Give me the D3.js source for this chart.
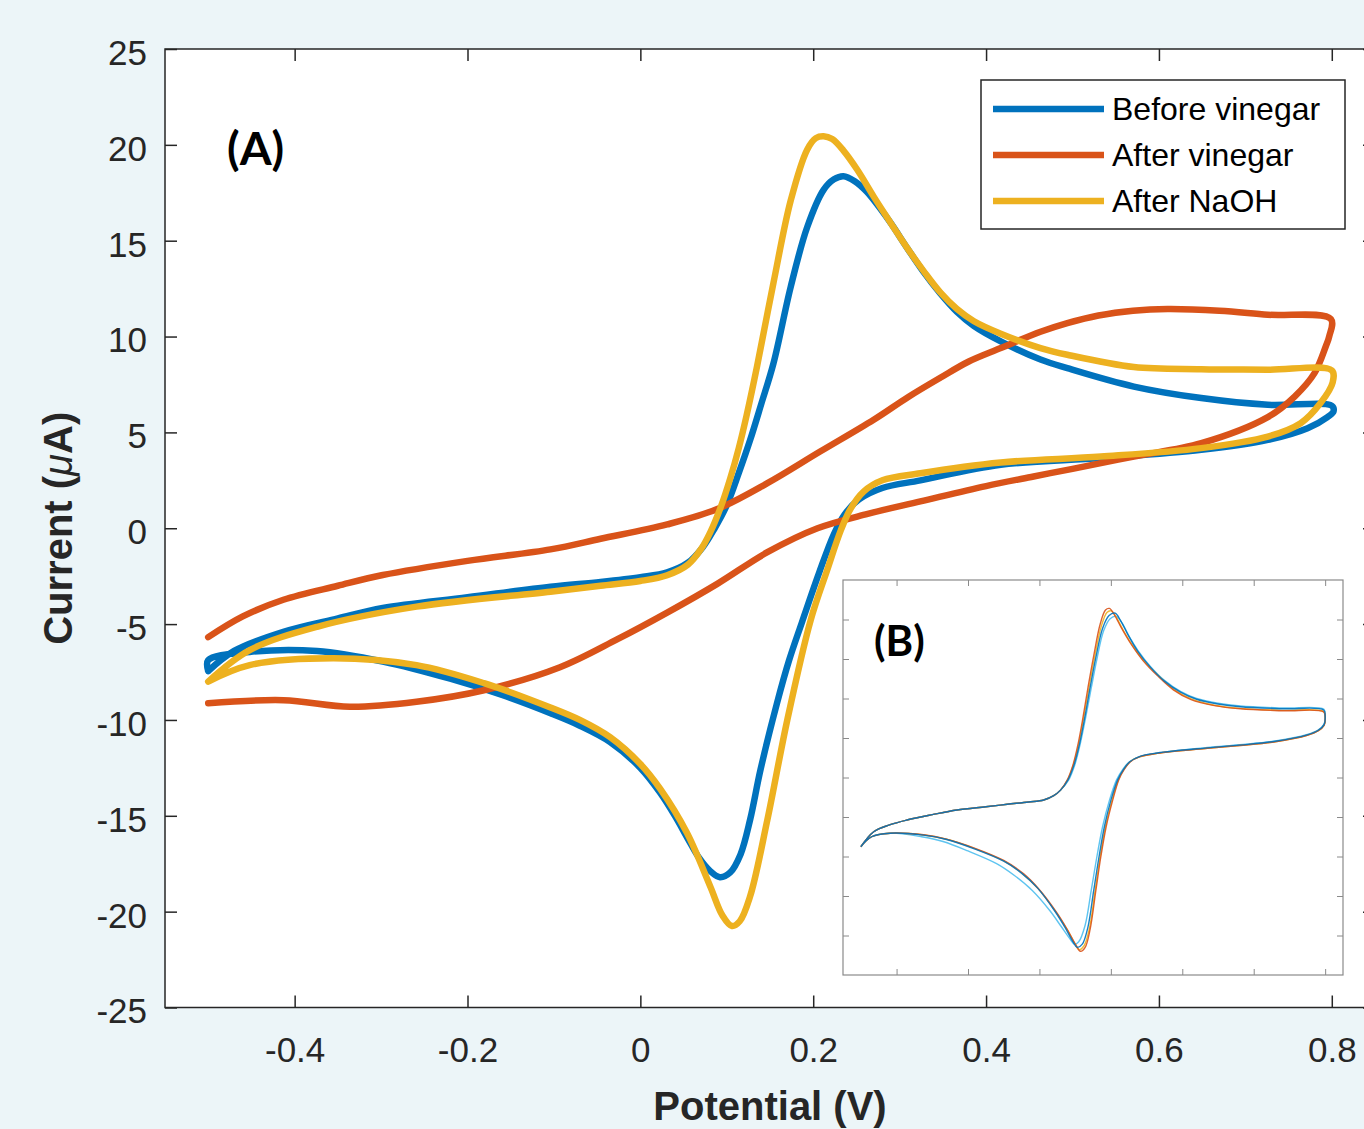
<!DOCTYPE html>
<html>
<head>
<meta charset="utf-8">
<title>cv curves</title>
<script src="https://d3js.org/d3.v7.min.js"></script>
<style>
  body { margin: 0; background: #ecf5f8; }
  svg { display: block; }
</style>
</head>
<body>
<svg id="chart" width="1364" height="1129"></svg>
<script>
// axis limits and ticks
const xDomain = [-0.55, 0.85];
const yDomain = [-25, 25];
const xTicks = [-0.4, -0.2, 0, 0.2, 0.4, 0.6, 0.8];
const xTickLabels = ["-0.4", "-0.2", "0", "0.2", "0.4", "0.6", "0.8"];
const yTicks = [-25, -20, -15, -10, -5, 0, 5, 10, 15, 20, 25];
const yTickLabels = ["-25", "-20", "-15", "-10", "-5", "0", "5", "10", "15", "20", "25"];
const insetXTicks = [-0.4, -0.2, 0, 0.2, 0.4, 0.6, 0.8];
const insetYTicks = [-20, -15, -10, -5, 0, 5, 10, 15, 20];

const seriesNames = ["Before vinegar", "After vinegar", "After NaOH"];
const seriesColors = ["#0072BD", "#D95319", "#EDB120"];

// [potential V, current uA], in scan order
const beforeVinegar = [
  [-0.5,-7.45],[-0.47,-6.4],[-0.413,-5.4],[-0.35,-4.7],[-0.298,-4.16],[-0.2,-3.6],[-0.104,-3.05],
  [-0.046,-2.8],[0.0,-2.55],[0.031,-2.3],[0.055,-1.8],[0.072,-1.0],[0.086,0.0],[0.1,1.2],[0.114,2.9],
  [0.127,4.6],[0.14,6.5],[0.154,8.6],[0.174,12.6],[0.193,15.7],[0.212,17.65],[0.224,18.2],[0.235,18.36],
  [0.248,18.1],[0.262,17.55],[0.278,16.65],[0.29,15.9],[0.309,14.6],[0.328,13.35],[0.347,12.25],
  [0.366,11.3],[0.386,10.55],[0.417,9.75],[0.463,8.8],[0.494,8.35],[0.571,7.39],[0.649,6.79],
  [0.726,6.44],[0.8,6.39],
  [0.802,6.1],[0.795,5.8],[0.772,5.22],[0.726,4.61],[0.649,4.09],[0.533,3.66],[0.417,3.31],[0.324,2.5],
  [0.28,2.1],[0.253,1.5],[0.236,0.7],[0.224,-0.3],[0.207,-2.3],[0.187,-4.9],[0.172,-6.9],[0.158,-9.14],
  [0.139,-12.6],[0.127,-15.2],[0.116,-17.0],[0.104,-17.95],[0.092,-18.2],[0.08,-17.85],[0.068,-17.2],
  [0.055,-16.2],[0.04,-15.0],[0.023,-13.8],[0.0,-12.5],[-0.035,-11.15],[-0.07,-10.3],[-0.104,-9.65],
  [-0.16,-8.7],[-0.22,-7.85],[-0.298,-6.95],[-0.374,-6.4],[-0.452,-6.45],[-0.5,-6.88],[-0.5,-7.45]
];
const afterVinegar = [
  [-0.5,-5.68],[-0.46,-4.6],[-0.413,-3.73],[-0.35,-3.0],[-0.298,-2.44],[-0.2,-1.7],[-0.104,-1.1],
  [-0.046,-0.55],[0.031,0.2],[0.089,1.0],[0.147,2.35],[0.208,4.0],[0.27,5.66],[0.31,6.85],[0.347,7.85],
  [0.38,8.7],[0.417,9.4],[0.463,10.25],[0.494,10.7],[0.53,11.1],[0.57,11.35],[0.61,11.44],[0.67,11.35],
  [0.726,11.14],[0.799,10.91],
  [0.797,10.0],[0.793,9.48],[0.78,8.09],[0.757,6.87],[0.726,5.8],[0.649,4.44],[0.571,3.74],[0.5,3.1],
  [0.455,2.7],[0.4,2.2],[0.324,1.4],[0.263,0.75],[0.205,0.0],[0.147,-1.25],[0.089,-2.9],[0.031,-4.4],
  [-0.027,-5.8],[-0.093,-7.25],[-0.181,-8.45],[-0.259,-9.05],[-0.336,-9.31],[-0.413,-8.97],[-0.5,-9.13]
];
const afterNaOH = [
  [-0.5,-8.0],[-0.452,-6.36],[-0.374,-5.14],[-0.259,-4.09],[-0.104,-3.31],[-0.046,-3.0],[0.0,-2.75],
  [0.031,-2.45],[0.055,-1.9],[0.07,-1.1],[0.081,-0.2],[0.093,1.1],[0.104,2.6],[0.114,4.2],[0.123,5.9],
  [0.135,8.44],[0.154,12.8],[0.174,17.1],[0.193,19.75],[0.203,20.35],[0.212,20.45],[0.222,20.3],
  [0.235,19.7],[0.251,18.7],[0.27,17.3],[0.29,15.9],[0.309,14.6],[0.328,13.4],[0.347,12.3],[0.366,11.45],
  [0.386,10.8],[0.417,10.15],[0.463,9.4],[0.494,9.05],[0.571,8.41],[0.649,8.3],[0.726,8.27],[0.8,8.23],
  [0.801,7.6],[0.787,6.53],[0.764,5.48],[0.726,4.78],[0.649,4.18],[0.533,3.74],[0.417,3.43],[0.324,2.87],
  [0.28,2.5],[0.258,1.9],[0.243,1.0],[0.232,-0.1],[0.216,-2.2],[0.197,-4.8],[0.17,-10.0],[0.147,-15.2],
  [0.127,-19.2],[0.115,-20.5],[0.106,-20.75],[0.095,-20.2],[0.081,-18.7],[0.054,-15.9],[0.023,-13.6],
  [0.0,-12.3],[-0.035,-10.9],[-0.07,-10.0],[-0.104,-9.35],[-0.181,-8.08],[-0.259,-7.14],[-0.355,-6.78],
  [-0.452,-7.14],[-0.5,-8.0]
];
const seriesData = [beforeVinegar, afterVinegar, afterNaOH];

// inset (B): repeated cycles
const insetStart = [
  [-0.5,-8.76],[-0.464,-6.86],[-0.42,-6.0],[-0.371,-5.38],[-0.3,-4.7],[-0.231,-4.11],[-0.15,-3.7],
  [-0.09,-3.39],[-0.03,-3.1],[0.012,-2.85],[0.04,-2.3],[0.059,-1.6]
];
const insetTail = [[-0.418,-7.05],[-0.47,-7.5],[-0.5,-8.76]];
const insetCycleOrange = [
  [0.078,-0.3],[0.094,1.6],[0.108,4.2],[0.122,7.6],[0.136,11.4],[0.152,15.4],[0.17,19.4],[0.185,21.2],
  [0.196,21.4],[0.21,20.6],[0.23,18.9],[0.255,17.0],[0.29,14.8],[0.33,12.9],[0.375,11.1],[0.423,9.9],
  [0.49,9.1],[0.563,8.7],[0.68,8.45],[0.796,8.3],
  [0.8,7.6],[0.797,6.6],[0.78,5.9],[0.75,5.35],[0.656,4.5],[0.56,4.05],[0.47,3.7],[0.33,3.06],[0.28,2.6],
  [0.255,2.0],[0.237,1.0],[0.222,-0.3],[0.205,-2.9],[0.187,-6.2],[0.172,-10.0],[0.158,-14.3],[0.142,-19.2],
  [0.128,-21.5],[0.115,-22.0],[0.102,-21.2],[0.08,-19.4],[0.05,-17.2],[0.0,-14.2],[-0.044,-12.2],
  [-0.1,-10.5],[-0.184,-8.9],[-0.26,-7.8],[-0.324,-7.25]
];
const insetCycleYellow = [
  [0.079,-0.3],[0.095,1.6],[0.11,4.2],[0.124,7.6],[0.139,11.4],[0.155,15.3],[0.173,19.1],[0.189,20.9],
  [0.201,21.1],[0.215,20.3],[0.234,18.7],[0.258,16.9],[0.292,14.8],[0.333,12.9],[0.378,11.1],[0.425,9.95],
  [0.49,9.15],[0.563,8.75],[0.68,8.5],[0.796,8.35],
  [0.8,7.65],[0.797,6.6],[0.78,5.9],[0.75,5.35],[0.656,4.5],[0.56,4.05],[0.47,3.7],[0.33,3.06],[0.28,2.6],
  [0.254,2.0],[0.236,1.0],[0.221,-0.3],[0.203,-2.9],[0.185,-6.2],[0.17,-10.0],[0.156,-14.3],[0.14,-19.1],
  [0.125,-21.3],[0.111,-21.8],[0.099,-21.0],[0.077,-19.2],[0.047,-17.1],[-0.003,-14.1],[-0.047,-12.2],
  [-0.1,-10.55],[-0.184,-8.95],[-0.26,-7.82],[-0.324,-7.27]
];
const insetCycleBlue = [
  [0.08,-0.3],[0.097,1.6],[0.112,4.2],[0.127,7.6],[0.142,11.4],[0.158,15.2],[0.177,18.9],[0.195,20.5],
  [0.212,20.8],[0.228,19.8],[0.25,17.9],[0.275,16.0],[0.31,14.0],[0.35,12.2],[0.395,10.8],[0.44,9.9],
  [0.5,9.3],[0.563,8.95],[0.68,8.7],[0.796,8.55],
  [0.8,7.8],[0.797,6.7],[0.78,5.95],[0.75,5.4],[0.656,4.55],[0.56,4.1],[0.47,3.75],[0.33,3.1],[0.28,2.65],
  [0.253,2.0],[0.235,1.0],[0.219,-0.3],[0.2,-2.9],[0.182,-6.2],[0.167,-10.0],[0.152,-14.3],[0.136,-18.9],
  [0.12,-21.1],[0.106,-21.5],[0.094,-20.8],[0.072,-19.0],[0.043,-16.9],[-0.005,-14.0],[-0.05,-12.1],
  [-0.1,-10.6],[-0.184,-9.0],[-0.26,-7.85],[-0.324,-7.3]
];
const insetCycleLightBlue = [
  [0.082,-0.3],[0.099,1.6],[0.114,4.2],[0.129,7.5],[0.145,11.3],[0.161,15.0],[0.18,18.6],[0.198,20.1],
  [0.215,20.4],[0.232,19.5],[0.252,17.8],[0.277,16.0],[0.31,14.1],[0.35,12.3],[0.395,10.9],[0.44,10.0],
  [0.5,9.4],[0.563,9.05],[0.68,8.8],[0.796,8.65],
  [0.8,7.9],[0.797,6.75],[0.78,6.0],[0.75,5.45],[0.656,4.6],[0.56,4.15],[0.47,3.8],[0.33,3.1],[0.28,2.65],
  [0.252,2.0],[0.233,1.0],[0.216,-0.3],[0.196,-2.9],[0.177,-6.2],[0.161,-10.0],[0.145,-14.3],[0.128,-18.7],
  [0.11,-20.8],[0.098,-21.1],[0.085,-20.4],[0.06,-18.8],[0.03,-16.9],[-0.02,-14.3],[-0.07,-12.4],
  [-0.12,-10.9],[-0.2,-9.3],[-0.27,-8.1],[-0.33,-7.5]
];
const insetCycles = [insetCycleLightBlue, insetCycleYellow, insetCycleOrange, insetCycleBlue];
const insetColors = ["#4DBEEE", "#EDB120", "#D95319", "#0072BD"];

const svg = d3.select("#chart");
const axisColor = "#262626";
const tickFont = "'Liberation Sans', Arial, Helvetica, sans-serif";

const x = d3.scaleLinear().domain(xDomain).range([165, 1375]);
const y = d3.scaleLinear().domain(yDomain).range([1007.5, 49]);

// plot area
svg.append("rect")
  .attr("x", x(xDomain[0])).attr("y", y(yDomain[1]))
  .attr("width", x(xDomain[1]) - x(xDomain[0]))
  .attr("height", y(yDomain[0]) - y(yDomain[1]))
  .attr("fill", "#fff");

const line = d3.line()
  .x(d => x(d[0]))
  .y(d => y(d[1]))
  .curve(d3.curveCatmullRom.alpha(0.5));

svg.append("g").selectAll("path")
  .data(seriesData)
  .join("path")
  .attr("d", line)
  .attr("fill", "none")
  .attr("stroke", (d, i) => seriesColors[i])
  .attr("stroke-width", 6.5)
  .attr("stroke-linejoin", "round")
  .attr("stroke-linecap", "round");

// axes, ticks pointing inward on all four sides
function styleAxis(g) {
  g.select(".domain").remove();
  g.selectAll(".tick line").attr("stroke", axisColor).attr("stroke-width", 1.5);
  g.selectAll(".tick text")
    .attr("fill", axisColor)
    .style("font-family", tickFont)
    .style("font-size", "35px");
}

svg.append("g")
  .attr("transform", `translate(0,${y(yDomain[0])})`)
  .call(d3.axisBottom(x).tickValues(xTicks).tickFormat((d, i) => xTickLabels[i])
    .tickSizeInner(-12).tickSizeOuter(0).tickPadding(30))
  .call(styleAxis);

svg.append("g")
  .attr("transform", `translate(0,${y(yDomain[1])})`)
  .call(d3.axisTop(x).tickValues(xTicks).tickFormat("").tickSizeInner(-12).tickSizeOuter(0))
  .call(styleAxis);

const gy = svg.append("g")
  .attr("transform", `translate(${x(xDomain[0])},0)`)
  .call(d3.axisLeft(y).tickValues(yTicks).tickFormat((d, i) => yTickLabels[i])
    .tickSizeInner(-12).tickSizeOuter(0).tickPadding(18))
  .call(styleAxis);
gy.selectAll(".tick text").attr("dy", "0.44em");

svg.append("g")
  .attr("transform", `translate(${x(xDomain[1])},0)`)
  .call(d3.axisRight(y).tickValues(yTicks).tickFormat("").tickSizeInner(-12).tickSizeOuter(0))
  .call(styleAxis);

svg.append("rect")
  .attr("x", x(xDomain[0])).attr("y", y(yDomain[1]))
  .attr("width", x(xDomain[1]) - x(xDomain[0]))
  .attr("height", y(yDomain[0]) - y(yDomain[1]))
  .attr("fill", "none")
  .attr("stroke", axisColor)
  .attr("stroke-width", 1.5);

// axis titles
svg.append("text")
  .attr("x", (x(xDomain[0]) + x(xDomain[1])) / 2)
  .attr("y", 1120)
  .attr("text-anchor", "middle")
  .attr("fill", axisColor)
  .style("font-family", tickFont)
  .style("font-size", "40px")
  .style("font-weight", "bold")
  .text("Potential (V)");

const yTitle = svg.append("text")
  .attr("transform", `translate(72,${(y(yDomain[0]) + y(yDomain[1])) / 2}) rotate(-90)`)
  .attr("text-anchor", "middle")
  .attr("fill", axisColor)
  .style("font-family", tickFont)
  .style("font-size", "40px")
  .style("font-weight", "bold");
yTitle.append("tspan").text("Current (");
yTitle.append("tspan").style("font-style", "italic").style("font-weight", "normal").text("\u03bc");
yTitle.append("tspan").text("A)");

// panel label
svg.append("text")
  .attr("x", 227).attr("y", 165)
  .style("font-family", "Lato, 'Open Sans', sans-serif")
  .style("font-size", "46px")
  .style("font-weight", "bold")
  .attr("fill", "#000")
  .text("(A)");

// legend
const legend = svg.append("g");
legend.append("rect")
  .attr("x", 981).attr("y", 80).attr("width", 364).attr("height", 149)
  .attr("fill", "#fff").attr("stroke", axisColor).attr("stroke-width", 1.5);
const entry = legend.selectAll("g.entry")
  .data(seriesNames)
  .join("g")
  .attr("class", "entry")
  .attr("transform", (d, i) => `translate(0,${109 + i * 46})`);
entry.append("line")
  .attr("x1", 993).attr("x2", 1104)
  .attr("stroke", (d, i) => seriesColors[i])
  .attr("stroke-width", 6.5);
entry.append("text")
  .attr("x", 1112).attr("y", 11)
  .style("font-family", tickFont)
  .style("font-size", "32px")
  .attr("fill", "#000")
  .text(d => d);

// inset (B)
const xi = d3.scaleLinear().domain(xDomain).range([843, 1343]);
const yi = d3.scaleLinear().domain(yDomain).range([975, 580]);
const inset = svg.append("g");
inset.append("rect")
  .attr("x", 843).attr("y", 580).attr("width", 500).attr("height", 395)
  .attr("fill", "#fff");

const insetLine = d3.line()
  .x(d => xi(d[0]))
  .y(d => yi(d[1]))
  .curve(d3.curveCatmullRom.alpha(0.5));

inset.append("g").selectAll("path")
  .data(insetCycles)
  .join("path")
  .attr("d", d => insetLine(insetStart.concat(d, insetTail)))
  .attr("fill", "none")
  .attr("stroke", (d, i) => insetColors[i])
  .attr("stroke-width", 1.4)
  .attr("stroke-opacity", 0.9);

function styleInsetAxis(g) {
  g.select(".domain").remove();
  g.selectAll(".tick line").attr("stroke", "#8a8a8a").attr("stroke-width", 1);
}
inset.append("g").attr("transform", "translate(0,975)")
  .call(d3.axisBottom(xi).tickValues(insetXTicks).tickFormat("").tickSizeInner(-6).tickSizeOuter(0))
  .call(styleInsetAxis);
inset.append("g").attr("transform", "translate(0,580)")
  .call(d3.axisTop(xi).tickValues(insetXTicks).tickFormat("").tickSizeInner(-6).tickSizeOuter(0))
  .call(styleInsetAxis);
inset.append("g").attr("transform", "translate(843,0)")
  .call(d3.axisLeft(yi).tickValues(insetYTicks).tickFormat("").tickSizeInner(-6).tickSizeOuter(0))
  .call(styleInsetAxis);
inset.append("g").attr("transform", "translate(1343,0)")
  .call(d3.axisRight(yi).tickValues(insetYTicks).tickFormat("").tickSizeInner(-6).tickSizeOuter(0))
  .call(styleInsetAxis);
inset.append("rect")
  .attr("x", 843).attr("y", 580).attr("width", 500).attr("height", 395)
  .attr("fill", "none").attr("stroke", "#8a8a8a").attr("stroke-width", 1.2);

inset.append("text")
  .attr("x", 874).attr("y", 656)
  .style("font-family", "Lato, 'Open Sans', sans-serif")
  .style("font-size", "42px")
  .style("font-weight", "bold")
  .attr("fill", "#000")
  .text("(B)");
</script>
</body>
</html>
